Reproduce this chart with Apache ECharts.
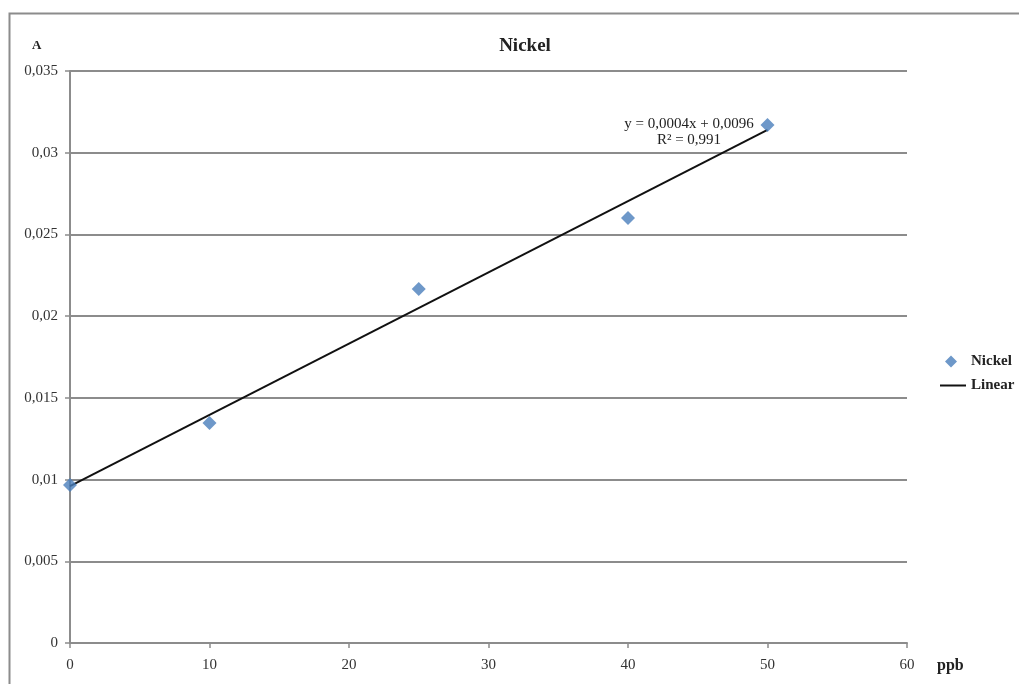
<!DOCTYPE html>
<html>
<head>
<meta charset="utf-8">
<script src="https://cdn.jsdelivr.net/npm/echarts@6/dist/echarts.min.js"></script>
<style>
html,body{margin:0;padding:0;background:#fff;}
#chart{width:1019px;height:684px;}
</style>
</head>
<body>
<div id="chart"></div>
<script>
// Data
const concentrations = [0, 10, 25, 40, 50];          // ppb
const absorbance = [0.00967, 0.01346, 0.02166, 0.02601, 0.0317]; // A
const trendX = [0, 50];
const trendY = [0.0096, 0.0314];
const xTicks = [0, 10, 20, 30, 40, 50, 60];
const yTicks = [0, 0.005, 0.01, 0.015, 0.02, 0.025, 0.03, 0.035];
const equationLines = ['y = 0,0004x + 0,0096', 'R² = 0,991'];

const FONT = 'Liberation Serif';
const chart = echarts.init(document.getElementById('chart'), null, {renderer: 'canvas'});

const fmtY = v => {
  if (v === 0) return '0';
  let s = v.toFixed(3).replace(/0+$/, '');
  return s.replace('.', ',');
};

chart.setOption({
  backgroundColor: '#fff',
  animation: false,
  title: {
    text: 'Nickel',
    left: 520, top: 32, textAlign: 'center',
    textStyle: {fontFamily: FONT, fontSize: 19, fontWeight: 'bold', color: '#222'}
  },
  legend: {
    orient: 'vertical',
    left: 935, top: 349,
    itemGap: 9,
    itemWidth: 26, itemHeight: 12,
    textStyle: {fontFamily: FONT, fontSize: 15, fontWeight: 'bold', color: '#222'},
    data: [
      {name: 'Nickel', icon: 'path://M0,6 L0.01,6 M26,6 L25.99,6 M11,0 L17,6 L11,12 L5,6 Z', itemStyle: {color: '#4a7ebb'}},
      {name: 'Linear', icon: 'path://M0,5 L26,5 L26,7 L0,7 Z', itemStyle: {color: '#111'}}
    ]
  },
  grid: {left: 70, right: 112, top: 71, bottom: 41, containLabel: false},
  xAxis: {
    type: 'value', min: xTicks[0], max: xTicks[xTicks.length - 1], interval: 10,
    axisLine: {show: true, lineStyle: {color: '#8c8c8c', width: 2}},
    axisTick: {show: true, length: 5, lineStyle: {color: '#8c8c8c', width: 1.5}},
    axisLabel: {fontFamily: FONT, fontSize: 15, color: '#333', margin: 15},
    splitLine: {show: false}
  },
  yAxis: {
    type: 'value', min: yTicks[0], max: yTicks[yTicks.length - 1], interval: 0.005,
    axisLine: {show: true, lineStyle: {color: '#8c8c8c', width: 2}},
    axisTick: {show: true, length: 5, lineStyle: {color: '#8c8c8c', width: 1.5}},
    axisLabel: {fontFamily: FONT, fontSize: 15, color: '#333', margin: 12, formatter: fmtY},
    splitLine: {show: true, lineStyle: {color: '#8c8c8c', width: 2}}
  },
  series: [
    {
      name: 'Linear', type: 'line',
      data: trendX.map((x, i) => [x, trendY[i]]),
      symbol: 'none',
      lineStyle: {color: '#111', width: 2},
      z: 2
    },
    {
      name: 'Nickel', type: 'scatter',
      data: concentrations.map((x, i) => [x, absorbance[i]]),
      symbol: 'diamond', symbolSize: 14,
      itemStyle: {color: '#4a7ebb'},
      z: 3
    }
  ],
  graphic: [
    {type: 'rect', left: 7, top: 11, shape: {width: 1030, height: 700},
     style: {fill: 'none', stroke: '#8c8c8c', lineWidth: 2}, silent: true},
    {type: 'text', left: 32, top: 39,
     style: {text: 'A', font: 'bold 13px "Liberation Serif"', fill: '#222'}},
    {type: 'text', left: 937, top: 658,
     style: {text: 'ppb', font: 'bold 16px "Liberation Serif"', fill: '#222'}},
    {type: 'text', x: 689, y: 116,
     style: {text: equationLines.join('\n'), font: '15px "Liberation Serif"', fill: '#222',
             textAlign: 'center', lineHeight: 16}}
  ]
});
</script>
</body>
</html>
